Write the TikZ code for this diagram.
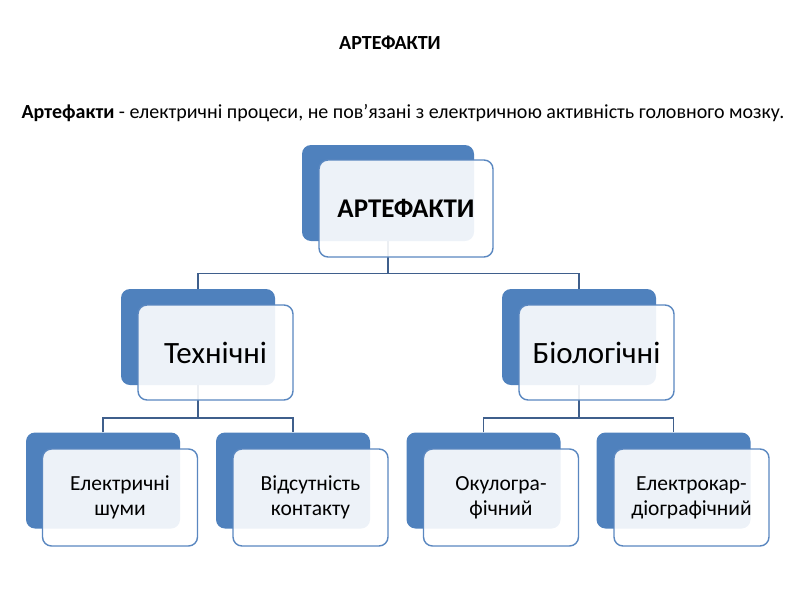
\documentclass[tikz,border=0pt]{standalone}
\usepackage{fontspec}
\setmainfont{Carlito}
\usetikzlibrary{backgrounds}
\definecolor{blueA}{HTML}{4F81BD}
\definecolor{blueB}{HTML}{5A87C0}
\definecolor{lineC}{HTML}{3F5F8C}
\tikzset{
  back/.style={fill=blueA, rounded corners=9pt, inner sep=0pt},
  front/.style={draw=blueB, line width=1.4pt, fill=white, fill opacity=0.9, text opacity=1, rounded corners=9pt, inner sep=0pt, align=center},
  conn/.style={draw=lineC, line width=1.6pt},
  bk3/.style={back, minimum width=154pt, minimum height=96pt},
  fr3/.style={front, minimum width=155pt, minimum height=97pt, font=\fontsize{21.5}{25}\selectfont},
}
\begin{document}
\begin{tikzpicture}[x=1pt,y=-1pt]
\useasboundingbox (0,0) rectangle (800,600);
\node (title) at (390,43) {\fontsize{20}{24}\selectfont\bfseries АРТЕФАКТИ};
\node (def) at (403,113) {\fontsize{20}{24}\selectfont\textbf{Артефакти} - електричні процеси, не пов’язані з електричною активність головного мозку.};
% level 1
\node[back, minimum width=172pt, minimum height=96pt] (b0) at (388,193) {};
\node[front, minimum width=174pt, minimum height=97pt, font=\fontsize{27}{30}\selectfont\bfseries] (f0) at (406,208.5) {АРТЕФАКТИ};
% level 2
\node[back, minimum width=154pt, minimum height=96pt] (b1) at (198,337) {};
\node[front, minimum width=155pt, minimum height=95pt, font=\fontsize{31}{34}\selectfont] (f1) at (215.5,352.5) {Технічні};
\node[back, minimum width=154pt, minimum height=96pt] (b2) at (579,337) {};
\node[front, minimum width=155pt, minimum height=95pt, font=\fontsize{31}{34}\selectfont] (f2) at (596.5,352.5) {Біологічні};
% level 3
\node[bk3] (b3) at (103,480.5) {};
\node[fr3] (f3) at (120,497.5) {Електричні\\шуми};
\node[bk3] (b4) at (293,480.5) {};
\node[fr3] (f4) at (310.5,497.5) {Відсутність\\контакту};
\node[bk3] (b5) at (483.5,480.5) {};
\node[fr3] (f5) at (501,497.5) {Окулогра-\\фічний};
\node[bk3] (b6) at (673.5,480.5) {};
\node[fr3] (f6) at (691.5,497.5) {Електрокар-\\діографічний};
\coordinate (j0) at (388,273.5);
\coordinate (j1) at (198,418);
\coordinate (j2) at (579,418);
\begin{scope}[on background layer]
\draw[conn] (b0.south) -- (j0);
\draw[conn] (b1.north) |- (j0) -| (b2.north);
\draw[conn] (b1.south) -- (j1);
\draw[conn] (b3.north) |- (j1) -| (b4.north);
\draw[conn] (b2.south) -- (j2);
\draw[conn] (b5.north) |- (j2) -| (b6.north);
\end{scope}
\end{tikzpicture}
\end{document}
